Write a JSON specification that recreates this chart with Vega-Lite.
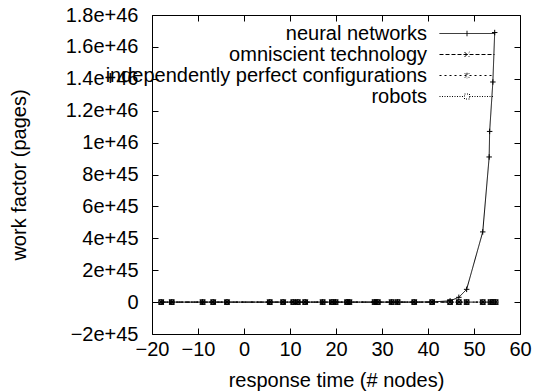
{
  "$schema": "https://vega.github.io/schema/vega-lite/v6.json",
  "width": 368,
  "height": 319,
  "autosize": "none",
  "padding": {"left": 152, "top": 15, "right": 14, "bottom": 57},
  "config": {
    "view": {"stroke": "black", "strokeWidth": 1},
    "font": "Liberation Sans",
    "axis": {
      "labelFont": "Liberation Sans", "titleFont": "Liberation Sans",
      "labelFontSize": 20, "titleFontSize": 20, "titleFontWeight": "normal",
      "labelColor": "black", "titleColor": "black", "tickColor": "black",
      "tickSize": -6, "domain": false, "grid": false,
      "labelOverlap": false, "labelFlush": false
    }
  },
  "datasets": {
    "pts": [
      {"series": "neural networks", "x": -18.0, "y": 0},
      {"series": "neural networks", "x": -15.7, "y": 0},
      {"series": "neural networks", "x": -9.0, "y": 0},
      {"series": "neural networks", "x": -6.7, "y": 0},
      {"series": "neural networks", "x": -3.7, "y": 0},
      {"series": "neural networks", "x": 5.6, "y": 0},
      {"series": "neural networks", "x": 8.5, "y": 0},
      {"series": "neural networks", "x": 10.7, "y": 0},
      {"series": "neural networks", "x": 11.7, "y": 0},
      {"series": "neural networks", "x": 13.3, "y": 0},
      {"series": "neural networks", "x": 17.1, "y": 0},
      {"series": "neural networks", "x": 19.1, "y": 0},
      {"series": "neural networks", "x": 19.9, "y": 0},
      {"series": "neural networks", "x": 22.4, "y": 0},
      {"series": "neural networks", "x": 28.4, "y": 0},
      {"series": "neural networks", "x": 29.1, "y": 0},
      {"series": "neural networks", "x": 32.1, "y": 0},
      {"series": "neural networks", "x": 33.4, "y": 0},
      {"series": "neural networks", "x": 37.0, "y": 0},
      {"series": "neural networks", "x": 40.9, "y": 1e43},
      {"series": "neural networks", "x": 44.8, "y": 8e43},
      {"series": "neural networks", "x": 46.7, "y": 3e44},
      {"series": "neural networks", "x": 48.4, "y": 8e44},
      {"series": "neural networks", "x": 51.9, "y": 4.4e45},
      {"series": "neural networks", "x": 53.3, "y": 9.1e45},
      {"series": "neural networks", "x": 53.4, "y": 1.07e46},
      {"series": "neural networks", "x": 54.1, "y": 1.38e46},
      {"series": "neural networks", "x": 54.5, "y": 1.69e46},
      {"series": "omniscient technology", "x": -18.0, "y": 0},
      {"series": "omniscient technology", "x": -15.7, "y": 0},
      {"series": "omniscient technology", "x": -9.0, "y": 0},
      {"series": "omniscient technology", "x": -6.7, "y": 0},
      {"series": "omniscient technology", "x": -3.7, "y": 0},
      {"series": "omniscient technology", "x": 5.6, "y": 0},
      {"series": "omniscient technology", "x": 8.5, "y": 0},
      {"series": "omniscient technology", "x": 10.7, "y": 0},
      {"series": "omniscient technology", "x": 11.7, "y": 0},
      {"series": "omniscient technology", "x": 13.3, "y": 0},
      {"series": "omniscient technology", "x": 17.1, "y": 0},
      {"series": "omniscient technology", "x": 19.1, "y": 0},
      {"series": "omniscient technology", "x": 19.9, "y": 0},
      {"series": "omniscient technology", "x": 22.4, "y": 0},
      {"series": "omniscient technology", "x": 22.9, "y": 0},
      {"series": "omniscient technology", "x": 28.4, "y": 0},
      {"series": "omniscient technology", "x": 29.1, "y": 0},
      {"series": "omniscient technology", "x": 32.1, "y": 0},
      {"series": "omniscient technology", "x": 33.4, "y": 0},
      {"series": "omniscient technology", "x": 37.0, "y": 0},
      {"series": "omniscient technology", "x": 40.9, "y": 0},
      {"series": "omniscient technology", "x": 44.8, "y": 0},
      {"series": "omniscient technology", "x": 46.7, "y": 0},
      {"series": "omniscient technology", "x": 48.4, "y": 0},
      {"series": "omniscient technology", "x": 51.9, "y": 0},
      {"series": "omniscient technology", "x": 53.6, "y": 0},
      {"series": "omniscient technology", "x": 54.7, "y": 0},
      {"series": "independently perfect configurations", "x": -18.0, "y": 0},
      {"series": "independently perfect configurations", "x": -15.7, "y": 0},
      {"series": "independently perfect configurations", "x": -9.0, "y": 0},
      {"series": "independently perfect configurations", "x": -6.7, "y": 0},
      {"series": "independently perfect configurations", "x": -3.7, "y": 0},
      {"series": "independently perfect configurations", "x": 5.6, "y": 0},
      {"series": "independently perfect configurations", "x": 8.5, "y": 0},
      {"series": "independently perfect configurations", "x": 10.7, "y": 0},
      {"series": "independently perfect configurations", "x": 11.7, "y": 0},
      {"series": "independently perfect configurations", "x": 13.3, "y": 0},
      {"series": "independently perfect configurations", "x": 17.1, "y": 0},
      {"series": "independently perfect configurations", "x": 19.1, "y": 0},
      {"series": "independently perfect configurations", "x": 19.9, "y": 0},
      {"series": "independently perfect configurations", "x": 22.4, "y": 0},
      {"series": "independently perfect configurations", "x": 22.9, "y": 0},
      {"series": "independently perfect configurations", "x": 28.4, "y": 0},
      {"series": "independently perfect configurations", "x": 29.1, "y": 0},
      {"series": "independently perfect configurations", "x": 32.1, "y": 0},
      {"series": "independently perfect configurations", "x": 33.4, "y": 0},
      {"series": "independently perfect configurations", "x": 37.0, "y": 0},
      {"series": "independently perfect configurations", "x": 40.9, "y": 0},
      {"series": "independently perfect configurations", "x": 44.8, "y": 0},
      {"series": "independently perfect configurations", "x": 46.7, "y": 0},
      {"series": "independently perfect configurations", "x": 48.4, "y": 0},
      {"series": "independently perfect configurations", "x": 51.9, "y": 0},
      {"series": "independently perfect configurations", "x": 53.6, "y": 0},
      {"series": "independently perfect configurations", "x": 54.7, "y": 0},
      {"series": "robots", "x": -18.0, "y": 0},
      {"series": "robots", "x": -15.7, "y": 0},
      {"series": "robots", "x": -9.0, "y": 0},
      {"series": "robots", "x": -6.7, "y": 0},
      {"series": "robots", "x": -3.7, "y": 0},
      {"series": "robots", "x": 5.6, "y": 0},
      {"series": "robots", "x": 8.5, "y": 0},
      {"series": "robots", "x": 10.7, "y": 0},
      {"series": "robots", "x": 11.7, "y": 0},
      {"series": "robots", "x": 13.3, "y": 0},
      {"series": "robots", "x": 17.1, "y": 0},
      {"series": "robots", "x": 19.1, "y": 0},
      {"series": "robots", "x": 19.9, "y": 0},
      {"series": "robots", "x": 22.4, "y": 0},
      {"series": "robots", "x": 22.9, "y": 0},
      {"series": "robots", "x": 28.4, "y": 0},
      {"series": "robots", "x": 29.1, "y": 0},
      {"series": "robots", "x": 32.1, "y": 0},
      {"series": "robots", "x": 33.4, "y": 0},
      {"series": "robots", "x": 37.0, "y": 0},
      {"series": "robots", "x": 40.9, "y": 0},
      {"series": "robots", "x": 44.8, "y": 0},
      {"series": "robots", "x": 46.7, "y": 0},
      {"series": "robots", "x": 48.4, "y": 0},
      {"series": "robots", "x": 51.9, "y": 0},
      {"series": "robots", "x": 53.6, "y": 0},
      {"series": "robots", "x": 54.2, "y": 0},
      {"series": "robots", "x": 54.7, "y": 0}
    ]
  },
  "data": {"name": "pts"},
  "layer": [
    {
      "mark": {"type": "line", "color": "black", "strokeWidth": 1},
      "encoding": {
        "x": {"field": "x", "type": "quantitative",
          "scale": {"domain": [-20, 60], "nice": false, "zero": false},
          "axis": {"orient": "bottom", "values": [-20, -10, 0, 10, 20, 30, 40, 50, 60],
            "title": "response time (# nodes)", "labelPadding": 11, "titleY": 46, "titleBaseline": "middle"}},
        "y": {"field": "y", "type": "quantitative",
          "scale": {"domain": [-2e45, 1.8e46], "nice": false, "zero": false},
          "axis": {"orient": "left",
            "values": [-2e45, 0, 2e45, 4e45, 6e45, 8e45, 1e46, 1.2e46, 1.4e46, 1.6e46, 1.8e46],
            "labelExpr": "datum.value == 0 ? '0' : format(datum.value, '.2~e')",
            "labelPadding": 20, "title": "work factor (pages)", "titleX": -133, "titleBaseline": "middle"}},
        "strokeDash": {"field": "series", "type": "nominal",
          "scale": {"domain": ["neural networks", "omniscient technology", "independently perfect configurations", "robots"],
            "range": [[1, 0], [5, 3], [2, 3], [1, 2]]},
          "legend": null}
      }
    },
    {
      "mark": {"type": "point", "color": "black", "filled": false, "strokeWidth": 1, "size": 30, "opacity": 1},
      "encoding": {
        "x": {"field": "x", "type": "quantitative", "axis": null},
        "y": {"field": "y", "type": "quantitative", "axis": null},
        "shape": {"field": "series", "type": "nominal",
          "scale": {"domain": ["neural networks", "omniscient technology", "independently perfect configurations", "robots"],
            "range": ["M-1,0H1M0,-1V1", "M-0.9,-0.9L0.9,0.9M-0.9,0.9L0.9,-0.9", "M-1,0H1M0,-1V1M-0.8,-0.8L0.8,0.8M-0.8,0.8L0.8,-0.8", "M-0.85,-0.85H0.85V0.85H-0.85Z"]},
          "legend": null}
      }
    },
    {
      "transform": [{"filter": "datum.x > 1000"}],
      "mark": {"type": "point", "color": "black", "filled": false, "strokeWidth": 1, "size": 400, "opacity": 1},
      "encoding": {
        "x": {"field": "x", "type": "quantitative",
          "axis": {"orient": "top", "values": [-20, -10, 0, 10, 20, 30, 40, 50, 60], "labels": false, "title": null}},
        "y": {"field": "y", "type": "quantitative",
          "axis": {"orient": "right", "values": [-2e45, 0, 2e45, 4e45, 6e45, 8e45, 1e46, 1.2e46, 1.4e46, 1.6e46, 1.8e46], "labels": false, "title": null}},
        "shape": {"field": "series", "type": "nominal",
          "scale": {"domain": ["neural networks", "omniscient technology", "independently perfect configurations", "robots"],
            "range": ["M-2.75,0H2.75M0,-0.275V0.275", "M-2.75,0H2.75M-0.25,-0.25L0.25,0.25M-0.25,0.25L0.25,-0.25", "M-2.75,0H2.75M0,-0.275V0.275M-0.22,-0.22L0.22,0.22M-0.22,0.22L0.22,-0.22", "M-2.75,0H-0.25M0.25,0H2.75M-0.25,-0.25H0.25V0.25H-0.25Z"]},
          "legend": {"title": null, "orient": "none", "legendX": 304.5, "legendY": 8, "padding": 0,
            "symbolSize": 400, "symbolStrokeWidth": 1, "symbolStrokeColor": "black", "symbolFillColor": "transparent", "symbolOpacity": 1,
            "rowPadding": 0, "labelAlign": "right", "labelOffset": -50.5,
            "labelFontSize": 20, "labelFont": "Liberation Sans", "labelColor": "black", "labelLimit": 400}},
        "strokeDash": {"field": "series", "type": "nominal",
          "scale": {"domain": ["neural networks", "omniscient technology", "independently perfect configurations", "robots"],
            "range": [[1, 0], [4, 2], [2, 3], [1, 1.5]]},
          "legend": {"title": null, "orient": "none", "legendX": 304.5, "legendY": 8, "padding": 0,
            "symbolSize": 400, "symbolStrokeWidth": 1, "symbolStrokeColor": "black", "symbolFillColor": "transparent", "symbolOpacity": 1,
            "rowPadding": 0, "labelAlign": "right", "labelOffset": -50.5,
            "labelFontSize": 20, "labelFont": "Liberation Sans", "labelColor": "black", "labelLimit": 400}}
      }
    }
  ],
  "resolve": {
    "scale": {"shape": "independent", "strokeDash": "independent"},
    "axis": {"x": "independent", "y": "independent"}
  }
}
